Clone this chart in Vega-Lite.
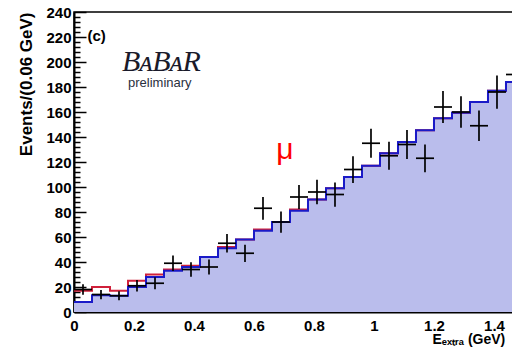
{
  "$schema": "https://vega.github.io/schema/vega-lite/v6.json",
  "width": 440,
  "height": 300,
  "autosize": {"type": "none"},
  "padding": {"left": 74, "top": 12, "right": 0, "bottom": 35},
  "background": "white",
  "config": {
    "view": {"stroke": "black", "strokeWidth": 1.5},
    "axis": {"grid": false, "domainColor": "black", "tickColor": "black", "labelColor": "black", "titleColor": "black", "labelFont": "Liberation Sans", "titleFont": "Liberation Sans"}
  },
  "datasets": {
    "hist": [
      {"e": 0.00, "mc": 8, "red": 17},
      {"e": 0.06, "mc": 13.5, "red": 20},
      {"e": 0.12, "mc": 13, "red": 17},
      {"e": 0.18, "mc": 20, "red": 25},
      {"e": 0.24, "mc": 28, "red": 30},
      {"e": 0.30, "mc": 33, "red": 34},
      {"e": 0.36, "mc": 36, "red": 37},
      {"e": 0.42, "mc": 44, "red": 44},
      {"e": 0.48, "mc": 51, "red": 52},
      {"e": 0.54, "mc": 58, "red": 58},
      {"e": 0.60, "mc": 65, "red": 66},
      {"e": 0.66, "mc": 72, "red": 72},
      {"e": 0.72, "mc": 81, "red": 82},
      {"e": 0.78, "mc": 90, "red": 90},
      {"e": 0.84, "mc": 99, "red": 99},
      {"e": 0.90, "mc": 108, "red": 108},
      {"e": 0.96, "mc": 117, "red": 117},
      {"e": 1.02, "mc": 127, "red": 127},
      {"e": 1.08, "mc": 136, "red": 136},
      {"e": 1.14, "mc": 145.5, "red": 145.5},
      {"e": 1.20, "mc": 155, "red": 155},
      {"e": 1.26, "mc": 159.5, "red": 159.5},
      {"e": 1.32, "mc": 168, "red": 168},
      {"e": 1.38, "mc": 177, "red": 177},
      {"e": 1.44, "mc": 184, "red": 184},
      {"e": 1.50, "mc": 184, "red": 184}
    ],
    "pts": [
      {"x0": 0.00, "x1": 0.06, "xc": 0.03, "n": 18, "lo": 13.8, "hi": 22.2},
      {"x0": 0.06, "x1": 0.12, "xc": 0.09, "n": 14, "lo": 10.3, "hi": 17.7},
      {"x0": 0.12, "x1": 0.18, "xc": 0.15, "n": 13, "lo": 9.4, "hi": 16.6},
      {"x0": 0.18, "x1": 0.24, "xc": 0.21, "n": 21, "lo": 16.4, "hi": 25.6},
      {"x0": 0.24, "x1": 0.30, "xc": 0.27, "n": 23, "lo": 18.2, "hi": 27.8},
      {"x0": 0.30, "x1": 0.36, "xc": 0.33, "n": 39, "lo": 32.8, "hi": 45.2},
      {"x0": 0.36, "x1": 0.42, "xc": 0.39, "n": 34, "lo": 28.2, "hi": 39.8},
      {"x0": 0.42, "x1": 0.48, "xc": 0.45, "n": 36, "lo": 30, "hi": 42},
      {"x0": 0.48, "x1": 0.54, "xc": 0.51, "n": 55, "lo": 47.6, "hi": 62.4},
      {"x0": 0.54, "x1": 0.60, "xc": 0.57, "n": 47, "lo": 40.1, "hi": 53.9},
      {"x0": 0.60, "x1": 0.66, "xc": 0.63, "n": 83, "lo": 73.9, "hi": 92.1},
      {"x0": 0.66, "x1": 0.72, "xc": 0.69, "n": 72, "lo": 63.5, "hi": 80.5},
      {"x0": 0.72, "x1": 0.78, "xc": 0.75, "n": 92, "lo": 82.4, "hi": 101.6},
      {"x0": 0.78, "x1": 0.84, "xc": 0.81, "n": 96, "lo": 86.2, "hi": 105.8},
      {"x0": 0.84, "x1": 0.90, "xc": 0.87, "n": 94, "lo": 84.3, "hi": 103.7},
      {"x0": 0.90, "x1": 0.96, "xc": 0.93, "n": 114, "lo": 103.3, "hi": 124.7},
      {"x0": 0.96, "x1": 1.02, "xc": 0.99, "n": 135, "lo": 123.4, "hi": 146.6},
      {"x0": 1.02, "x1": 1.08, "xc": 1.05, "n": 125, "lo": 113.8, "hi": 136.2},
      {"x0": 1.08, "x1": 1.14, "xc": 1.11, "n": 134, "lo": 122.4, "hi": 145.6},
      {"x0": 1.14, "x1": 1.20, "xc": 1.17, "n": 123, "lo": 111.9, "hi": 134.1},
      {"x0": 1.20, "x1": 1.26, "xc": 1.23, "n": 164, "lo": 151.2, "hi": 176.8},
      {"x0": 1.26, "x1": 1.32, "xc": 1.29, "n": 160, "lo": 147.4, "hi": 172.6},
      {"x0": 1.32, "x1": 1.38, "xc": 1.35, "n": 149, "lo": 136.8, "hi": 161.2},
      {"x0": 1.38, "x1": 1.44, "xc": 1.41, "n": 176, "lo": 162.7, "hi": 189.3},
      {"x0": 1.44, "x1": 1.50, "xc": 1.47, "n": 190, "lo": 176.2, "hi": 203.8}
    ]
  },
  "resolve": {"axis": {"x": "independent", "y": "independent"}},
  "layer": [
    {
      "data": {"name": "hist"},
      "mark": {"type": "area", "interpolate": "step-after", "fill": "#babdec", "clip": true},
      "encoding": {
        "x": {"field": "e", "type": "quantitative", "scale": {"domain": [0, 1.4667], "nice": false, "zero": false},
          "axis": {"orient": "bottom", "values": [0, 0.2, 0.4, 0.6, 0.8, 1, 1.2, 1.4], "format": "~g", "tickSize": -12, "tickWidth": 1.5, "domainWidth": 2, "labelFontSize": 15, "labelFontWeight": "bold", "labelPadding": 18, "labelFlush": false, "title": "Eₑₓₜᵣₐ (GeV)", "titleFontSize": 14, "titleFontWeight": "bold", "titleAnchor": "start", "titleAlign": "left", "titleX": 358, "titleY": 20, "titleBaseline": "top"}},
        "y": {"field": "mc", "type": "quantitative", "scale": {"domain": [0, 240], "nice": false},
          "axis": {"orient": "left", "values": [0, 20, 40, 60, 80, 100, 120, 140, 160, 180, 200, 220, 240], "tickSize": -12, "tickWidth": 1.5, "domainWidth": 2, "labelFontSize": 15, "labelFontWeight": "bold", "labelPadding": 15, "labelFlush": false, "title": "Events/(0.06 GeV)", "titleFontSize": 17, "titleFontWeight": "bold", "titleAnchor": "end", "titlePadding": 10}}
      }
    },
    {
      "data": {"name": "hist"},
      "mark": {"type": "line", "interpolate": "step-after", "color": "#d0203a", "strokeWidth": 2, "clip": true},
      "encoding": {
        "x": {"field": "e", "type": "quantitative",
          "axis": {"orient": "bottom", "values": [0.05, 0.1, 0.15, 0.25, 0.3, 0.35, 0.45, 0.5, 0.55, 0.65, 0.7, 0.75, 0.85, 0.9, 0.95, 1.05, 1.1, 1.15, 1.25, 1.3, 1.35, 1.45], "tickSize": -6, "tickWidth": 1.5, "labels": false, "domain": false, "title": null}},
        "y": {"field": "red", "type": "quantitative",
          "axis": {"orient": "left", "values": [4, 8, 12, 16, 24, 28, 32, 36, 44, 48, 52, 56, 64, 68, 72, 76, 84, 88, 92, 96, 104, 108, 112, 116, 124, 128, 132, 136, 144, 148, 152, 156, 164, 168, 172, 176, 184, 188, 192, 196, 204, 208, 212, 216, 224, 228, 232, 236], "tickSize": -6, "tickWidth": 1.5, "labels": false, "domain": false, "title": null}}
      }
    },
    {
      "data": {"name": "hist"},
      "mark": {"type": "line", "interpolate": "step-after", "color": "#1a1ac8", "strokeWidth": 2, "clip": true},
      "encoding": {
        "x": {"field": "e", "type": "quantitative", "axis": null},
        "y": {"field": "mc", "type": "quantitative", "axis": null}
      }
    },
    {
      "data": {"name": "pts"},
      "mark": {"type": "rule", "color": "black", "strokeWidth": 1.7, "clip": true},
      "encoding": {
        "x": {"field": "xc", "type": "quantitative", "axis": null},
        "y": {"field": "lo", "type": "quantitative", "axis": null},
        "y2": {"field": "hi"}
      }
    },
    {
      "data": {"name": "pts"},
      "mark": {"type": "rule", "color": "black", "strokeWidth": 1.7, "clip": true},
      "encoding": {
        "x": {"field": "x0", "type": "quantitative", "axis": null},
        "x2": {"field": "x1"},
        "y": {"field": "n", "type": "quantitative", "axis": null}
      }
    },
    {
      "data": {"values": [{"label": "(c)"}]},
      "mark": {"type": "text", "font": "Liberation Sans", "fontWeight": "bold", "fontSize": 15, "align": "left", "baseline": "middle", "color": "black"},
      "encoding": {
        "text": {"field": "label"},
        "x": {"datum": 0.045, "type": "quantitative", "axis": null},
        "y": {"datum": 221, "type": "quantitative", "axis": null}
      }
    },
    {
      "data": {"values": [{"label": "BᴀBᴀR"}]},
      "mark": {"type": "text", "font": "Liberation Serif", "fontStyle": "italic", "fontSize": 30, "align": "left", "baseline": "alphabetic", "color": "#1a1a2a"},
      "encoding": {
        "text": {"field": "label"},
        "x": {"datum": 0.16, "type": "quantitative", "axis": null},
        "y": {"datum": 193, "type": "quantitative", "axis": null}
      }
    },
    {
      "data": {"values": [{"label": "preliminary"}]},
      "mark": {"type": "text", "font": "Liberation Sans", "fontSize": 13, "align": "left", "baseline": "alphabetic", "color": "#2a3040"},
      "encoding": {
        "text": {"field": "label"},
        "x": {"datum": 0.18, "type": "quantitative", "axis": null},
        "y": {"datum": 180, "type": "quantitative", "axis": null}
      }
    },
    {
      "data": {"values": [{"label": "μ"}]},
      "mark": {"type": "text", "font": "Liberation Sans", "fontSize": 30, "align": "center", "baseline": "middle", "color": "#ff0000"},
      "encoding": {
        "text": {"field": "label"},
        "x": {"datum": 0.703, "type": "quantitative", "axis": null},
        "y": {"datum": 130, "type": "quantitative", "axis": null}
      }
    }
  ]
}
